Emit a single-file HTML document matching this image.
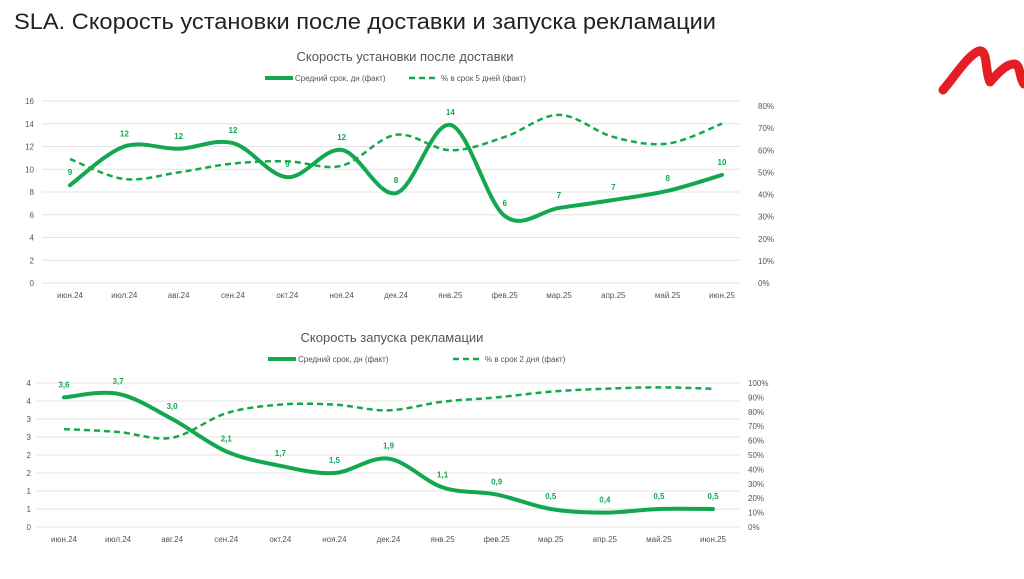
<!DOCTYPE html>
<html><head><meta charset="utf-8"><style>
body{margin:0;background:#fff;width:1024px;height:574px;overflow:hidden;font-family:"Liberation Sans","DejaVu Sans",sans-serif}
svg text{font-family:"Liberation Sans","DejaVu Sans",sans-serif}
</style></head><body>
<svg id="s" width="1024" height="574" xmlns="http://www.w3.org/2000/svg">
<text x="14" y="29" font-size="22" fill="#222" textLength="702" lengthAdjust="spacingAndGlyphs">SLA. Скорость установки после доставки и запуска рекламации</text>
<path d="M943 90 C955 76 968 55 979 51 C988 49 985 72 990 82 C997 74 1006 64 1014 64 C1021 64 1019 78 1024 84" fill="none" stroke="#e31e24" stroke-width="9" stroke-linecap="round" stroke-linejoin="round"/>
</svg>
<script>
const months=["июн.24","июл.24","авг.24","сен.24","окт.24","ноя.24","дек.24","янв.25","фев.25","мар.25","апр.25","май.25","июн.25"];
const c1Days=[8.6,12.0,11.8,12.3,9.3,11.7,7.9,13.9,5.9,6.6,7.3,8.1,9.5];
const c1DayLabels=["9","12","12","12","9","12","8","14","6","7","7","8","10"];
const c1Pct=[0.56,0.47,0.50,0.54,0.55,0.53,0.67,0.60,0.66,0.76,0.66,0.63,0.72];
const c1LeftTicks=["0","2","4","6","8","10","12","14","16"];
const c1RightTicks=["0%","10%","20%","30%","40%","50%","60%","70%","80%"];
const c2Days=[3.6,3.7,3.0,2.1,1.7,1.5,1.9,1.1,0.9,0.5,0.4,0.5,0.5];
const c2DayLabels=["3,6","3,7","3,0","2,1","1,7","1,5","1,9","1,1","0,9","0,5","0,4","0,5","0,5"];
const c2Pct=[0.68,0.66,0.62,0.79,0.85,0.85,0.81,0.87,0.90,0.94,0.96,0.97,0.96];
const c2LeftTicks=["0","1","1","2","2","3","3","4","4"];
const c2RightTicks=["0%","10%","20%","30%","40%","50%","60%","70%","80%","90%","100%"];
const NS="http://www.w3.org/2000/svg";
const svg=document.getElementById('s');
const G="#13a850";
function el(t,a,p){const e=document.createElementNS(NS,t);for(const k in a)e.setAttribute(k,a[k]);(p||svg).appendChild(e);return e;}
function smooth(pts){let d="M"+pts[0][0]+" "+pts[0][1];for(let i=0;i<pts.length-1;i++){const p0=pts[i-1]||pts[i],p1=pts[i],p2=pts[i+1],p3=pts[i+2]||p2;const t=6;d+=" C"+(p1[0]+(p2[0]-p0[0])/t)+" "+(p1[1]+(p2[1]-p0[1])/t)+" "+(p2[0]-(p3[0]-p1[0])/t)+" "+(p2[1]-(p3[1]-p1[1])/t)+" "+p2[0]+" "+p2[1];}return d;}
function chart(o){
 const g=el('g',{});
 
 
 const x=i=>o.x0+i*(o.x1-o.x0)/(months.length-1);
 const yL=v=>o.yb-(v/o.lmax)*(o.yb-o.yt);
 const yR=v=>o.yb-(v/o.rmax)*(o.yb-o.rt);
 o.lt.forEach((t,i)=>{const y=o.yb-i*(o.yb-o.yt)/(o.lt.length-1);
  const l=el('line',{x1:o.gx0,x2:o.gx1,y1:y,y2:y,stroke:"#e3e3e3","stroke-width":1},g);
  
  const tx=el('text',{x:o.lx,y:y+3,"font-size":8,fill:"#555","text-anchor":"end"},g);tx.textContent=t;
  });
 o.rt2.forEach((t,i)=>{const y=o.yb-i*(o.yb-o.rt)/(o.rt2.length-1);
  const tx=el('text',{x:o.rx,y:y+3,"font-size":8,fill:"#555"},g);tx.textContent=t;
  });
 months.forEach((m,i)=>{const tx=el('text',{x:x(i),y:o.yb+15,"font-size":8,fill:"#555","text-anchor":"middle"},g);tx.textContent=m;
  });
 const dp=el('path',{d:smooth(o.pct.map((v,i)=>[x(i),yR(v)])),fill:"none",stroke:G,"stroke-width":2.5,"stroke-dasharray":"6 4"},g);
 
 const sp=el('path',{d:smooth(o.days.map((v,i)=>[x(i),yL(v)])),fill:"none",stroke:G,"stroke-width":4,"stroke-linecap":"round"},g);
 
 o.labels.forEach((t,i)=>{const tx=el('text',{x:x(i),y:yL(o.days[i])-10,"font-size":8,"font-weight":"bold",fill:G,"text-anchor":"middle"},g);tx.textContent=t;
  });
 const ti=el('text',{x:o.tx,y:o.ty,"font-size":13,fill:"#555","text-anchor":"middle"},g);ti.textContent=o.title;
 
 const ly=o.ty+20;
 let e=el('line',{x1:o.lg1,x2:o.lg1+28,y1:ly-3,y2:ly-3,stroke:G,"stroke-width":4},g);
 
 e=el('text',{x:o.lg1+30,y:ly,"font-size":8,fill:"#555"},g);e.textContent="Средний срок, дн (факт)";
 
 e=el('line',{x1:o.lg2,x2:o.lg2+28,y1:ly-3,y2:ly-3,stroke:G,"stroke-width":2.5,"stroke-dasharray":"6 4"},g);
 
 e=el('text',{x:o.lg2+32,y:ly,"font-size":8,fill:"#555"},g);e.textContent=o.pctLabel;
 
}
chart({name:"install-chart",x0:70,x1:722,gx0:42,gx1:740,yb:283,yt:101,rt:106,lmax:16,rmax:0.8,lt:c1LeftTicks,rt2:c1RightTicks,lx:34,rx:758,
 days:c1Days,labels:c1DayLabels,pct:c1Pct,title:"Скорость установки после доставки",tx:405,ty:61,lg1:265,lg2:409,pctLabel:"% в срок 5 дней (факт)"});
chart({name:"claims-chart",x0:64,x1:713,gx0:37,gx1:740,yb:527,yt:383,rt:383,lmax:4,rmax:1.0,lt:c2LeftTicks,rt2:c2RightTicks,lx:31,rx:748,
 days:c2Days,labels:c2DayLabels,pct:c2Pct,title:"Скорость запуска рекламации",tx:392,ty:342,lg1:268,lg2:453,pctLabel:"% в срок 2 дня (факт)"});
</script>
</body></html>
